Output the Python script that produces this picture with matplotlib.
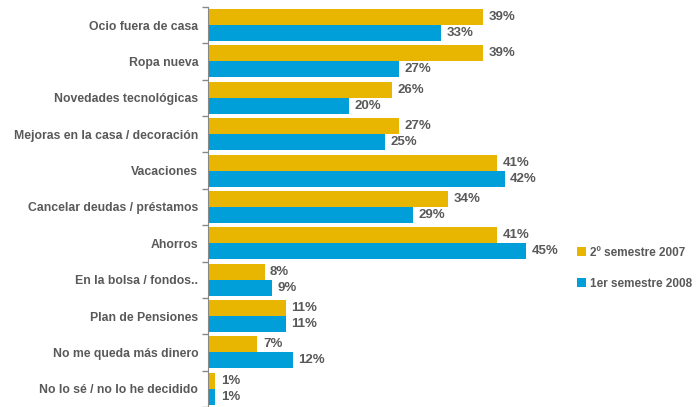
import matplotlib.pyplot as plt
import numpy as np

plt.rcParams['font.family'] = ['Liberation Sans', 'DejaVu Sans']

# Data
categories = ['Ocio fuera de casa', 'Ropa nueva', 'Novedades tecnológicas',
              'Mejoras en la casa / decoración', 'Vacaciones',
              'Cancelar deudas / préstamos', 'Ahorros', 'En la bolsa / fondos..',
              'Plan de Pensiones', 'No me queda más dinero',
              'No lo sé / no lo he decidido']
sem2_2007 = [39, 39, 26, 27, 41, 34, 41, 8, 11, 7, 1]
sem1_2008 = [33, 27, 20, 25, 42, 29, 45, 9, 11, 12, 1]
series_names = ['2º semestre 2007', '1er semestre 2008']

gold = '#E8B500'
blue = '#009FD9'
grey = '#595959'

fig = plt.figure(figsize=(6.99, 4.07), dpi=100)
ax = fig.add_axes([0.2976, 0.0, 0.505, 0.983])

y = np.arange(len(categories))
h = 0.44
b1 = ax.barh(y - h / 2, sem2_2007, height=h, color=gold, label=series_names[0])
b2 = ax.barh(y + h / 2, sem1_2008, height=h, color=blue, label=series_names[1])

for bars, vals in [(b1, sem2_2007), (b2, sem1_2008)]:
    for bar, v in zip(bars, vals):
        ax.annotate(f'{v}%', (bar.get_width(), bar.get_y() + bar.get_height() / 2),
                    xytext=(4, 0), textcoords='offset points', va='center', ha='left',
                    fontsize=9.5, fontweight='bold', color=grey)

ax.set_ylim(len(categories) - 0.5, -0.5)
ax.set_xlim(0, 50)
ax.set_yticks(y)
ax.set_yticklabels(categories, fontsize=8.8, fontweight='bold', color=grey)
ax.set_yticks(np.arange(len(categories) + 1) - 0.5, minor=True)
ax.tick_params(axis='y', which='major', length=0, pad=7)
ax.tick_params(axis='y', which='minor', length=4, color='#888888', width=1)
ax.set_xticks([])
for s in ['top', 'right', 'bottom']:
    ax.spines[s].set_visible(False)
ax.spines['left'].set_color('#888888')

fig.legend(handles=[b1, b2], loc='upper left', bbox_to_anchor=(0.81, 0.42),
           frameon=False, handlelength=0.8, handleheight=0.8,
           handletextpad=0.3, labelspacing=1.6, labelcolor=grey,
           prop={'weight': 'bold', 'size': 8.5})

plt.savefig('out.png', dpi=100)
